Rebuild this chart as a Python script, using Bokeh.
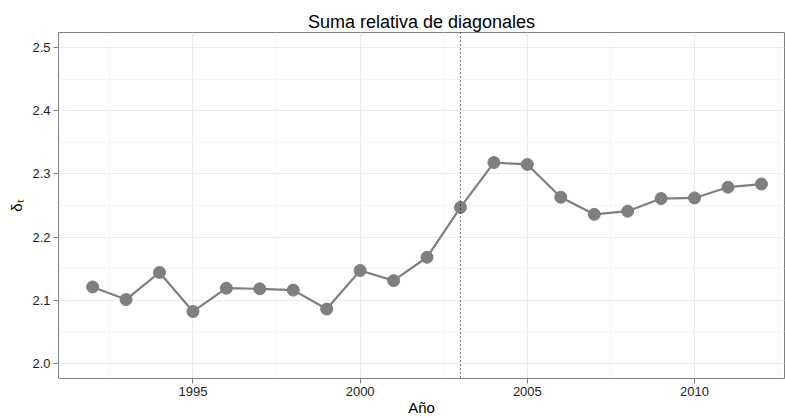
from bokeh.plotting import figure
from bokeh.models import Range1d, FixedTicker, Span, ColumnDataSource
from bokeh.embed import file_html
from bokeh.resources import INLINE

years = [1992, 1993, 1994, 1995, 1996, 1997, 1998, 1999, 2000, 2001, 2002,
         2003, 2004, 2005, 2006, 2007, 2008, 2009, 2010, 2011, 2012]
delta = [2.121, 2.101, 2.144, 2.082, 2.119, 2.118, 2.116, 2.086, 2.147, 2.131, 2.168,
         2.247, 2.318, 2.315, 2.263, 2.236, 2.241, 2.261, 2.262, 2.279, 2.284]
x_ticks = [1995, 2000, 2005, 2010]
x_minor = [1992.5, 1997.5, 2002.5, 2007.5, 2012.5]
y_ticks = [2.0, 2.1, 2.2, 2.3, 2.4, 2.5]
y_minor = [2.05, 2.15, 2.25, 2.35, 2.45]
break_year = 2003
title_text = "Suma relativa de diagonales"
x_label = "Año"
y_label = "δₜ"

src = ColumnDataSource(dict(x=years, y=delta))

p = figure(width=785, height=418, output_backend="svg", toolbar_location=None,
           x_range=Range1d(1990.98, 2012.69), y_range=Range1d(1.976, 2.524),
           min_border_left=58, min_border_right=1, min_border_top=32,
           min_border_bottom=40)

p.title.text = title_text
p.title.align = "center"
p.title.text_font = "Liberation Sans"
p.title.text_font_size = "18px"
p.title.text_font_style = "normal"
p.title.text_color = "#000000"
p.title.offset = 0
p.title.standoff = 2

p.outline_line_color = "#7f7f7f"
p.outline_line_width = 1
p.background_fill_color = "white"
p.border_fill_color = "white"

p.xaxis.ticker = FixedTicker(ticks=x_ticks, minor_ticks=x_minor)
p.yaxis.ticker = FixedTicker(ticks=y_ticks, minor_ticks=y_minor)
p.yaxis.major_label_overrides = {v: f"{v:.1f}" for v in y_ticks}

for ax in (p.xaxis[0], p.yaxis[0]):
    ax.axis_line_color = None
    ax.major_tick_line_color = "#7f7f7f"
    ax.major_tick_in = 0
    ax.major_tick_out = 5
    ax.minor_tick_line_color = None
    ax.major_label_text_font = "Liberation Sans"
    ax.major_label_text_font_size = "13px"
    ax.major_label_text_color = "#222222"
    ax.axis_label_text_font = "Liberation Sans"
    ax.axis_label_text_font_size = "15px"
    ax.axis_label_text_font_style = "normal"
    ax.axis_label_text_color = "#000000"

p.xaxis.axis_label = x_label
p.yaxis.axis_label = y_label
p.xaxis.major_label_standoff = 3
p.yaxis.major_label_standoff = 3
p.xaxis.axis_label_standoff = 0
p.yaxis.axis_label_standoff = 4

p.xgrid.grid_line_color = "#ebebeb"
p.ygrid.grid_line_color = "#ebebeb"
p.xgrid.minor_grid_line_color = "#f6f6f6"
p.ygrid.minor_grid_line_color = "#f6f6f6"

p.line("x", "y", source=src, line_color="#7f7f7f", line_width=2.2)
p.scatter("x", "y", source=src, size=12, fill_color="#7f7f7f", line_color="#7f7f7f")

p.add_layout(Span(location=break_year, dimension="height", line_color="black",
                  line_dash="1 3", line_width=1.2))

open("out.html", "w").write(file_html(p, INLINE))
